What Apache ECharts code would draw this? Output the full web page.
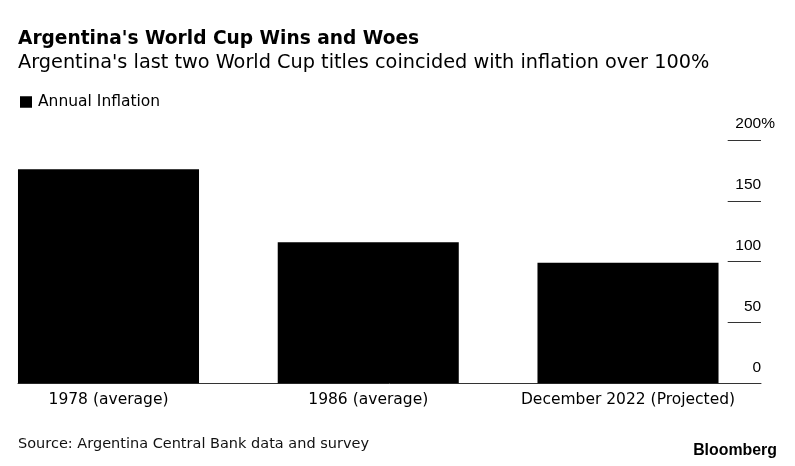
<!DOCTYPE html>
<html>
<head>
<meta charset="utf-8">
<script src="https://cdn.jsdelivr.net/npm/echarts@6/dist/echarts.min.js"></script>
<style>
html,body{margin:0;padding:0;background:#fff;}
#chart{width:795px;height:466px;}
</style>
</head>
<body>
<div id="chart"></div>
<script>
const categories = ['1978 (average)', '1986 (average)', 'December 2022 (Projected)'];
const inflation = [176, 116, 99];
const yTicks = [0, 50, 100, 150, 200];
const seriesName = 'Annual Inflation';

const FONT = "'DejaVu Sans', sans-serif";
const FONT2 = "'Liberation Sans', Arial, sans-serif";
const chart = echarts.init(document.getElementById('chart'), null, {renderer: 'canvas'});

const plotTop = 140, plotBottom = 466 - 383.3;
const yMin = yTicks[0], yMax = yTicks[yTicks.length - 1], yStep = yTicks[1] - yTicks[0];

chart.setOption({
  animation: false,
  backgroundColor: '#fff',
  textStyle: {fontFamily: FONT},
  title: [
    {text: "Argentina's World Cup Wins and Woes", left: 18, top: 29.5, padding: 0,
     textStyle: {fontFamily: FONT, fontSize: 18.6, fontWeight: 'bold', color: '#000', lineHeight: 18.6}},
    {text: "Argentina's last two World Cup titles coincided with inflation over 100%", left: 18, top: 53.7, padding: 0,
     textStyle: {fontFamily: FONT, fontSize: 19.3, fontWeight: 'normal', color: '#000', lineHeight: 19.3}},
    {text: 'Source: Argentina Central Bank data and survey', left: 18, top: 436.8, padding: 0,
     textStyle: {fontFamily: FONT, fontSize: 14.5, fontWeight: 'normal', color: '#111', lineHeight: 14.5}},
    {text: 'Bloomberg', right: 18, top: 442.5, padding: 0,
     textStyle: {fontFamily: FONT2, fontSize: 15.9, fontWeight: 'bold', color: '#000', lineHeight: 15.9}}
  ],
  legend: {
    data: [seriesName], left: 20, top: 94, padding: 0, icon: 'rect', itemWidth: 12, itemHeight: 11.5, itemGap: 10,
    textStyle: {fontFamily: FONT, fontSize: 15.5, color: '#000', lineHeight: 15.5, padding: [0, 0, 0, 1]},
    selectedMode: false
  },
  grid: [
    {left: 108.5, width: 519.5, top: plotTop, bottom: plotBottom},
    {left: 727.7, width: 33.3, top: plotTop, bottom: plotBottom},
    {left: 18, width: 743, top: plotTop, bottom: plotBottom}
  ],
  xAxis: [
    {type: 'category', gridIndex: 0, data: categories, boundaryGap: false,
     axisLine: {show: false}, axisTick: {show: false}, splitLine: {show: false},
     axisLabel: {interval: 0, fontFamily: FONT, fontSize: 15.5, lineHeight: 15.5, color: '#000', margin: 9}},
    {type: 'value', gridIndex: 1, show: false},
    {type: 'value', gridIndex: 2, min: 0, max: 1,
     axisLine: {show: true, lineStyle: {color: '#333', width: 1}},
     axisTick: {show: false}, axisLabel: {show: false}, splitLine: {show: false}}
  ],
  yAxis: [
    {type: 'value', gridIndex: 0, min: yMin, max: yMax, interval: yStep, show: false},
    {type: 'value', gridIndex: 1, position: 'right', offset: 14,
     min: yMin, max: yMax, interval: yStep,
     axisLine: {show: false}, axisTick: {show: false},
     splitLine: {show: true, lineStyle: {color: '#333', width: 1}},
     axisLabel: {
       inside: true, margin: 0, align: 'right', verticalAlign: 'bottom',
       padding: [0, 0, 8.3, 0],
       formatter: function (v) {
         return v === yMax ? '{n|' + v + '}{p|%}' : '{n|' + v + '}{h|%}';
       },
       rich: {
         n: {fontFamily: FONT2, fontSize: 15.5, color: '#000', lineHeight: 15.5},
         p: {fontFamily: FONT2, fontSize: 15.5, color: '#000', lineHeight: 15.5},
         h: {fontFamily: FONT2, fontSize: 15.5, color: 'rgba(0,0,0,0)', lineHeight: 15.5}
       }
     }},
    {type: 'value', gridIndex: 2, show: false}
  ],
  series: [
    {name: seriesName, type: 'bar', xAxisIndex: 0, yAxisIndex: 0, data: inflation, clip: false,
     barWidth: '69.7%', itemStyle: {color: '#000'}, emphasis: {disabled: true}}
  ]
});
</script>
</body>
</html>
